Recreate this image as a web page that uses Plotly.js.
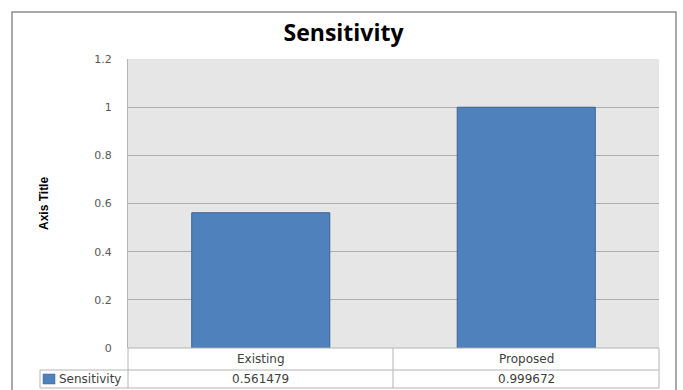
<!DOCTYPE html>
<html>
<head>
<meta charset="utf-8">
<script src="https://cdn.plot.ly/plotly-3.0.1.min.js"></script>
<style>html,body{margin:0;padding:0;background:#fff;}#chart{width:683px;height:390px;}</style>
</head>
<body>
<div id="chart"></div>
<script>
var categories = ["Existing", "Proposed"];
var seriesName = "Sensitivity";
var values = [0.561479, 0.999672];
var valueLabels = ["0.561479", "0.999672"];
var yTicks = [0, 0.2, 0.4, 0.6, 0.8, 1, 1.2];
var yTickLabels = ["0", "0.2", "0.4", "0.6", "0.8", "1", "1.2"];

var W = 683, H = 390;
var L = 128, R = 659, T = 59, B = 348;
function px(x){ return (x - L) / (R - L); }
function py(y){ return (B - y) / (B - T); }

var trace = {
  type: "bar",
  x: categories,
  y: values,
  name: seriesName,
  marker: {color: "#4f81bd", line: {color: "#3a6394", width: 1}},
  hoverinfo: "none"
};

var lineCol = "#b4b4b4";
var shapes = [
  {type:"rect", xref:"paper", yref:"paper", x0:px(12), x1:px(676), y0:py(12), y1:py(400), line:{color:"#8c8c8c", width:1.5}},
  {type:"line", xref:"paper", yref:"paper", x0:px(128), x1:px(659), y0:py(348), y1:py(348), line:{color:lineCol, width:1}},
  {type:"line", xref:"paper", yref:"paper", x0:px(40), x1:px(659), y0:py(370), y1:py(370), line:{color:lineCol, width:1}},
  {type:"line", xref:"paper", yref:"paper", x0:px(40), x1:px(659), y0:py(388), y1:py(388), line:{color:lineCol, width:1}},
  {type:"line", xref:"paper", yref:"paper", x0:px(40), x1:px(40), y0:py(370), y1:py(388), line:{color:lineCol, width:1}},
  {type:"line", xref:"paper", yref:"paper", x0:px(128), x1:px(128), y0:py(348), y1:py(388), line:{color:lineCol, width:1}},
  {type:"line", xref:"paper", yref:"paper", x0:px(393), x1:px(393), y0:py(348), y1:py(388), line:{color:lineCol, width:1}},
  {type:"line", xref:"paper", yref:"paper", x0:px(659), x1:px(659), y0:py(348), y1:py(388), line:{color:lineCol, width:1}},
  {type:"rect", xref:"paper", yref:"paper", x0:px(43), x1:px(55), y0:py(384), y1:py(374), fillcolor:"#4f81bd", line:{color:"#3a6394", width:0.5}}
];

var tf = {family:"DejaVu Sans, Verdana, sans-serif", size:12, color:"#404040"};
var annotations = [
  {text:"Axis Title", xref:"paper", yref:"paper", x:px(44), y:py(204), textangle:-90, showarrow:false,
   font:{family:"Liberation Sans Narrow, Arial Narrow, sans-serif", size:12, color:"#000", weight:"bold"}, xanchor:"center", yanchor:"middle"},
  {text:seriesName, xref:"paper", yref:"paper", x:px(57), y:py(379), xanchor:"left", yanchor:"middle", showarrow:false, font:tf}
];
categories.forEach(function(c, i){
  annotations.push({text:c, xref:"x", yref:"paper", x:c, y:py(359), xanchor:"center", yanchor:"middle", showarrow:false, font:tf});
  annotations.push({text:valueLabels[i], xref:"x", yref:"paper", x:c, y:py(379), xanchor:"center", yanchor:"middle", showarrow:false, font:tf});
});

var layout = {
  width: W, height: H,
  margin: {l:L, r:W-R, t:T, b:H-B, pad:0},
  paper_bgcolor: "#ffffff",
  plot_bgcolor: "#e6e6e6",
  showlegend: false,
  bargap: 0.48,
  title: {text:"<b>Sensitivity</b>", x:0.503, xref:"container", y:1-33/H, yref:"container", xanchor:"center", yanchor:"middle",
          font:{family:"Open Sans, Noto Sans, sans-serif", size:23, color:"#000"}},
  xaxis: {type:"category", showticklabels:false, showgrid:false, zeroline:false, showline:false, ticks:"", fixedrange:true},
  yaxis: {range:[0,1.2], tickvals:yTicks, ticktext:yTickLabels, showgrid:true, gridcolor:"#adadad", gridwidth:1,
          zeroline:false, showline:true, linecolor:"#b4b4b4", linewidth:1, ticks:"outside", ticklen:13, tickcolor:"rgba(0,0,0,0)",
          tickfont:{family:"DejaVu Sans, Verdana, sans-serif", size:11, color:"#595959"}, fixedrange:true},
  shapes: shapes,
  annotations: annotations
};

Plotly.newPlot("chart", [trace], layout, {displayModeBar:false, staticPlot:true});
</script>
</body>
</html>
